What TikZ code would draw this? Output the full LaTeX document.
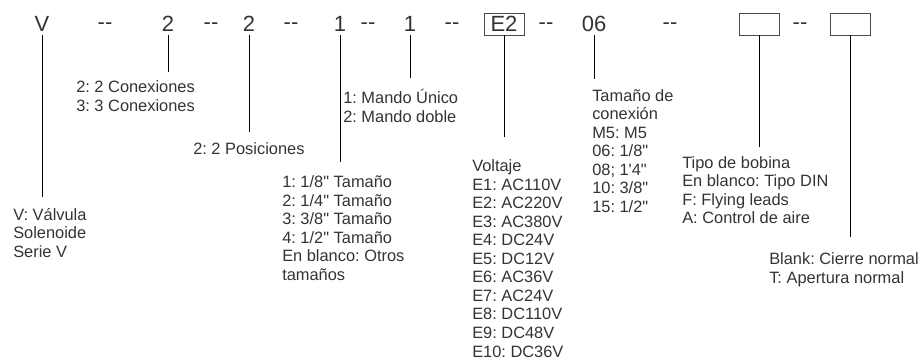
\documentclass[tikz,border=0pt]{standalone}
\usepackage{fontspec}
\newfontfamily\arialfont{Liberation Sans}
\usetikzlibrary{positioning,calc}

\newcommand{\codefont}{\arialfont\fontsize{16.5pt}{19pt}\selectfont}
\newcommand{\descfont}{\arialfont\fontsize{12.3pt}{13.9pt}\selectfont\frenchspacing}
\newcommand{\sepdash}{\raisebox{0.12em}{--}}

\begin{document}
\begin{tikzpicture}[
        x=0.75pt, y=-0.75pt,
        codesty/.style={
            font=\codefont, text=black!80,
            inner sep=0pt, minimum height=16.5pt,
            text height=11.8pt, text depth=0pt,
        },
        boxsty/.style={
            codesty, draw=black!70, line width=0.6pt,
            minimum width=30pt,
        },
        descsty/.style={
            font=\descfont, text=black!80,
            align=left, anchor=base west, inner sep=0pt,
        },
        linesty/.style={line width=0.75pt},
    ]
    \useasboundingbox (0,0) rectangle (924,363);

    % code row
    \node[codesty] (cv) at (42,24) {V};
    \node[codesty] at (105,24) (d1) {\sepdash};
    \node[codesty] at (168,24) (cconx) {2};
    \node[codesty] at (211,24) (d2) {\sepdash};
    \node[codesty] at (249,24) (cpos) {2};
    \node[codesty] at (291,24) (d3) {\sepdash};
    \node[codesty] at (340,24) (ctam) {1};
    \node[codesty] at (368,24) (d4) {\sepdash};
    \node[codesty] at (410,24) (cmando) {1};
    \node[codesty] at (452,24) (d5) {\sepdash};
    \node[boxsty] at (504,24) (cvolt) {E2};
    \node[codesty] at (546,24) (d6) {\sepdash};
    \node[codesty] at (594,24) (ctubo) {06};
    \node[codesty] at (670,24) (d7) {\sepdash};
    \node[boxsty] at (759,24) (cbob) {};
    \node[codesty] at (800,24) (d8) {\sepdash};
    \node[boxsty] at (850,24) (ccierre) {};

    % descriptions (base = last line)
    \node[descsty] at (13,257.5) (valv) {V: Válvula\\Solenoide\\Serie V};
    \node[descsty] at (76,111.5) (conx) {2: 2 Conexiones\\3: 3 Conexiones};
    \node[descsty] at (193,154.5) (pos) {2: 2 Posiciones};
    \node[descsty] at (282,280.5) (tam) {1: 1/8" Tamaño\\2: 1/4" Tamaño\\3: 3/8" Tamaño\\4: 1/2" Tamaño\\En blanco: Otros\\tamaños};
    \node[descsty] at (343,122.5) (mando) {1: Mando Único\\2: Mando doble};
    \node[descsty] at (472,357) (volt) {Voltaje\\E1: AC110V\\E2: AC220V\\E3: AC380V\\E4: DC24V\\E5: DC12V\\E6: AC36V\\E7: AC24V\\E8: DC110V\\E9: DC48V\\E10: DC36V};
    \node[descsty] at (592,212.5) (tubo) {Tamaño de\\conexión\\M5: M5\\06: 1/8"\\08; 1'4"\\10: 3/8"\\15: 1/2"};
    \node[descsty] at (682,224) (bob) {Tipo de bobina\\En blanco: Tipo DIN\\F: Flying leads\\A: Control de aire};
    \node[descsty] at (769,283) (cierre) {Blank: Cierre normal\\T: Apertura normal};

    % leader ends
    \coordinate (vend) at (42,197);
    \coordinate (conxend) at (168,72);
    \coordinate (posend) at (249,132);
    \coordinate (tamend) at (340,162);
    \coordinate (mandoend) at (410,78);
    \coordinate (voltend) at (504,137);
    \coordinate (tuboend) at (594,79);
    \coordinate (bobend) at (759,147);
    \coordinate (cierreend) at (850,237);

    \draw[linesty] (cv) -- (vend);
    \draw[linesty] (cconx) -- (conxend);
    \draw[linesty] (cpos) -- (posend);
    \draw[linesty] (ctam) -- (tamend);
    \draw[linesty] (cmando) -- (mandoend);
    \draw[linesty] (cvolt) -- (voltend);
    \draw[linesty] (ctubo) -- (tuboend);
    \draw[linesty] (cbob) -- (bobend);
    \draw[linesty] (ccierre) -- (cierreend);

\end{tikzpicture}
\end{document}
